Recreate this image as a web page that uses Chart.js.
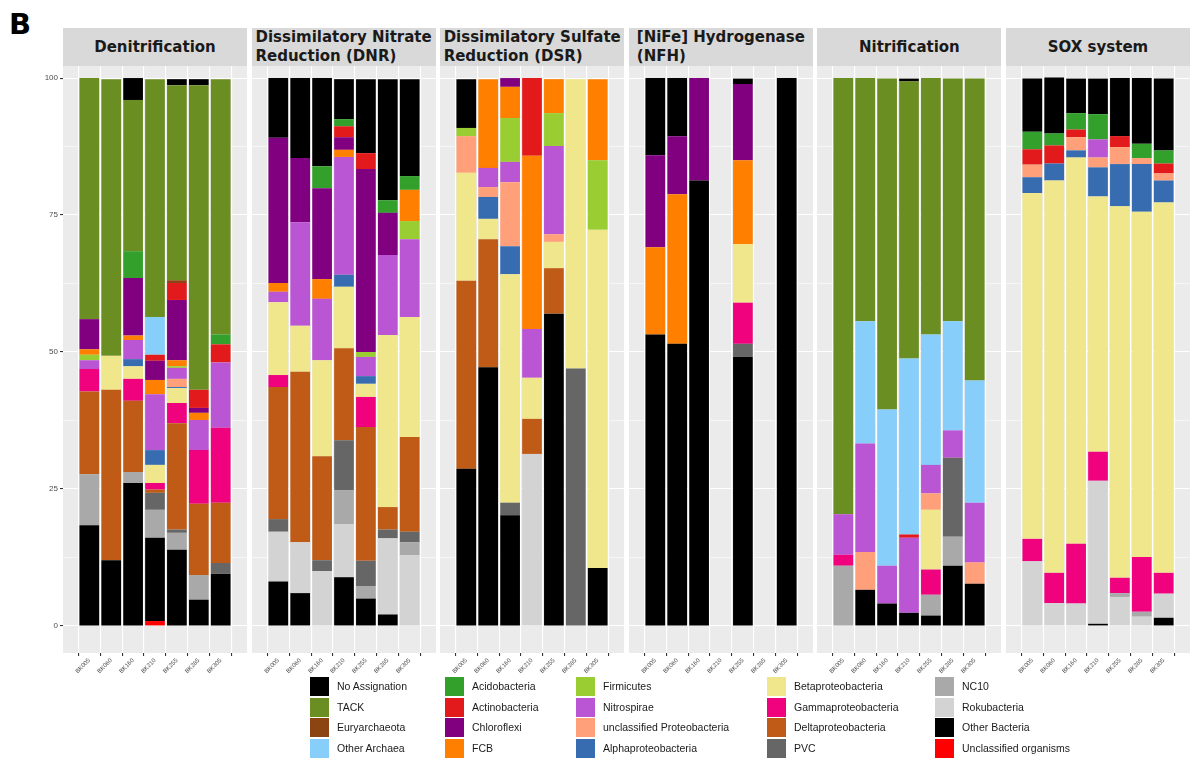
<!DOCTYPE html>
<html>
<head>
<meta charset="utf-8">
<script src="https://cdn.jsdelivr.net/npm/chart.js@4.4.1/dist/chart.umd.min.js"></script>
<style>
  body { margin: 0; background: #fff; width: 1192px; height: 758px; position: relative; overflow: hidden;
         font-family: 'Liberation Sans', Arial, sans-serif; }
  .tag { position: absolute; left: 9px; top: 7px; font: bold 29px 'DejaVu Sans', sans-serif; color: #000; }
  .strip { position: absolute; top: 28px; height: 38px; background: #D9D9D9; color: #1A1A1A;
           font: bold 15px 'DejaVu Sans', sans-serif; display: flex; align-items: center; justify-content: center; }
  .strip span { white-space: pre; line-height: 19px; text-align: left; }
  canvas { position: absolute; }
  .key { position: absolute; width: 19px; height: 19px; }
  .lab { position: absolute; font-size: 10.5px; color: #1A1A1A; line-height: 19px; white-space: nowrap; }
</style>
</head>
<body>
<div class="tag">B</div>
<div id="root"></div>
<script>
// sample sites along the x axis of every facet
const samples = ['BK005', 'BK060', 'BK160', 'BK210', 'BK255', 'BK285', 'BK305'];

// legend order (top of the stack first)
const taxa = [
  'No Assignation', 'TACK', 'Euryarchaeota', 'Other Archaea',
  'Acidobacteria', 'Actinobacteria', 'Chloroflexi', 'FCB',
  'Firmicutes', 'Nitrospirae', 'unclassified Proteobacteria', 'Alphaproteobacteria',
  'Betaproteobacteria', 'Gammaproteobacteria', 'Deltaproteobacteria', 'PVC',
  'NC10', 'Rokubacteria', 'Other Bacteria', 'Unclassified organisms'
];

const taxaColors = [
  '#000000', '#6B8E23', '#8B4513', '#87CEFA',
  '#33A02C', '#E31A1C', '#800080', '#FF7F00',
  '#9ACD32', '#BA55D3', '#FFA07A', '#386CB0',
  '#F0E68C', '#F0027F', '#BF5B17', '#666666',
  '#A9A9A9', '#D3D3D3', '#000000', '#FF0000'
];

const panelTitles = [
  'Denitrification',
  'Dissimilatory Nitrate\nReduction (DNR)',
  'Dissimilatory Sulfate\nReduction (DSR)',
  '[NiFe] Hydrogenase\n(NFH)',
  'Nitrification',
  'SOX system'
];

// relative abundance (%) per taxon, one value per sample
const denitrification = {
  'No Assignation': [0, 0, 4.0, 0, 1.1, 1.1, 0],
  'TACK': [44.0, 50.5, 27.6, 43.4, 35.6, 55.6, 46.6],
  'Euryarchaeota': [0, 0, 0, 0, 0.5, 0, 0],
  'Other Archaea': [0, 0, 0, 6.9, 0, 0, 0],
  'Acidobacteria': [0, 0, 4.9, 0, 0, 0, 1.8],
  'Actinobacteria': [0, 0, 0, 1.1, 3.1, 3.3, 3.3],
  'Chloroflexi': [5.5, 0, 10.5, 3.5, 11.0, 0.9, 0],
  'FCB': [1.0, 0, 0.8, 2.6, 1.1, 1.3, 0],
  'Firmicutes': [1.0, 0, 0, 0, 0.3, 0, 0],
  'Nitrospirae': [1.6, 0, 3.5, 10.2, 2.0, 5.5, 11.9],
  'unclassified Proteobacteria': [0, 0, 0, 0, 1.5, 0, 0],
  'Alphaproteobacteria': [0, 0, 1.3, 2.7, 0.2, 0, 0],
  'Betaproteobacteria': [0, 6.2, 2.3, 3.3, 2.7, 0, 0],
  'Gammaproteobacteria': [4.1, 0, 4.0, 1.2, 3.7, 9.8, 13.7],
  'Deltaproteobacteria': [15.1, 31.1, 13.0, 0.6, 19.4, 13.0, 11.0],
  'PVC': [0, 0, 0, 3.1, 0.6, 0, 2.0],
  'NC10': [9.3, 0, 2.0, 5.1, 3.1, 4.5, 0],
  'Other Bacteria': [18.4, 12.0, 26.1, 15.2, 13.9, 4.8, 9.5],
  'Unclassified organisms': [0, 0, 0, 0.9, 0, 0, 0]
};

const dnr = {
  'No Assignation': [10.9, 14.6, 16.1, 7.3, 13.5, 22.1, 17.7],
  'Acidobacteria': [0, 0, 4.0, 1.3, 0, 2.3, 2.5],
  'Actinobacteria': [0, 0, 0, 2.0, 2.9, 0, 0],
  'Chloroflexi': [26.5, 11.7, 16.6, 2.3, 33.4, 7.7, 0],
  'FCB': [1.6, 0, 3.6, 1.3, 0, 0, 5.7],
  'Firmicutes': [0, 0, 0, 0, 0.9, 0, 3.3],
  'Nitrospirae': [1.9, 18.9, 11.2, 21.5, 3.5, 14.6, 14.2],
  'Alphaproteobacteria': [0, 0, 0, 2.2, 1.4, 0, 0],
  'Betaproteobacteria': [13.3, 8.4, 17.5, 11.2, 2.4, 31.4, 21.9],
  'Gammaproteobacteria': [2.2, 0, 0, 0, 5.5, 0, 0],
  'Deltaproteobacteria': [24.1, 31.1, 19.0, 16.8, 24.4, 4.1, 17.3],
  'PVC': [2.3, 0, 2.0, 9.1, 4.6, 1.6, 1.9],
  'NC10': [0, 0, 0, 6.2, 2.3, 0, 2.4],
  'Rokubacteria': [9.1, 9.3, 10.0, 9.7, 0, 13.9, 12.9],
  'Other Bacteria': [8.1, 6.0, 0, 8.9, 5.0, 2.1, 0]
};

const dsr = {
  'No Assignation': [8.9, 0, 0, 0, 0, 0, 0],
  'Actinobacteria': [0, 0, 0, 14.2, 0, 0, 0],
  'Chloroflexi': [0, 0, 1.6, 0, 0, 0, 0],
  'FCB': [0, 16.2, 5.7, 31.6, 6.2, 0, 14.8],
  'Firmicutes': [1.5, 0, 8.0, 0, 6.0, 0, 12.7],
  'Nitrospirae': [0, 3.5, 3.7, 8.9, 16.1, 0, 0],
  'unclassified Proteobacteria': [6.7, 1.8, 11.7, 0, 1.4, 0, 0],
  'Alphaproteobacteria': [0, 4.0, 5.1, 0, 0, 0, 0],
  'Betaproteobacteria': [19.7, 3.7, 41.7, 7.5, 4.8, 52.8, 61.7],
  'Deltaproteobacteria': [34.3, 23.4, 0, 6.4, 8.3, 0, 0],
  'PVC': [0, 0, 2.3, 0, 0, 47.0, 0],
  'Rokubacteria': [0, 0, 0, 31.4, 0, 0, 0],
  'Other Bacteria': [28.7, 47.2, 20.2, 0, 57.0, 0, 10.6]
};

const nfh = {
  'No Assignation': [14.1, 10.6, 0, 0, 1.0, 0, 0],
  'Chloroflexi': [16.8, 10.6, 18.7, 0, 13.9, 0, 0],
  'FCB': [15.9, 27.3, 0, 0, 15.3, 0, 0],
  'Betaproteobacteria': [0, 0, 0, 0, 10.7, 0, 0],
  'Gammaproteobacteria': [0, 0, 0, 0, 7.5, 0, 0],
  'PVC': [0, 0, 0, 0, 2.4, 0, 0],
  'Other Bacteria': [53.2, 51.5, 81.3, 0, 49.1, 0, 100]
};

const nitrification = {
  'No Assignation': [0, 0, 0, 0.5, 0, 0, 0],
  'TACK': [79.6, 44.4, 60.4, 50.6, 46.8, 44.3, 55.1],
  'Other Archaea': [0, 22.3, 28.5, 32.1, 23.8, 19.9, 22.3],
  'Actinobacteria': [0, 0, 0, 0.6, 0, 0, 0],
  'Nitrospirae': [7.4, 19.8, 6.9, 13.7, 5.2, 5.0, 10.9],
  'unclassified Proteobacteria': [0, 6.9, 0, 0, 3.0, 0, 3.9],
  'Betaproteobacteria': [0, 0, 0, 0, 10.9, 0, 0],
  'Gammaproteobacteria': [2.0, 0, 0, 0, 4.6, 0, 0],
  'PVC': [0, 0, 0, 0, 0, 14.4, 0],
  'NC10': [11.0, 0, 0, 0, 3.8, 5.3, 0],
  'Other Bacteria': [0, 6.6, 4.1, 2.4, 1.9, 11.0, 7.7]
};

const sox = {
  'No Assignation': [9.7, 10.2, 6.3, 6.5, 10.6, 12.0, 13.1],
  'Acidobacteria': [3.2, 2.2, 3.0, 4.6, 0, 2.6, 2.4],
  'Actinobacteria': [2.8, 3.3, 1.4, 0, 2.0, 0, 1.8],
  'Nitrospirae': [0, 0, 0, 3.3, 0, 0, 0],
  'unclassified Proteobacteria': [2.3, 0, 2.4, 1.8, 3.1, 1.1, 1.3],
  'Alphaproteobacteria': [2.9, 3.1, 1.3, 5.3, 7.7, 8.7, 4.0],
  'Betaproteobacteria': [63.1, 71.6, 70.5, 46.6, 67.8, 63.0, 67.6],
  'Gammaproteobacteria': [4.1, 5.5, 10.9, 5.3, 2.8, 10.0, 3.8],
  'NC10': [0, 0, 0, 0, 0.7, 0.9, 0],
  'Rokubacteria': [11.8, 4.2, 4.1, 26.1, 5.3, 1.7, 4.4],
  'Other Bacteria': [0, 0, 0, 0.4, 0, 0, 1.5]
};

const yTicks = [0, 12.5, 25, 37.5, 50, 62.5, 75, 87.5, 100];

const panels = [denitrification, dnr, dsr, nfh, nitrification, sox];

// facet geometry (px)
const PANEL_LEFT = 63, PANEL_W = 184, PANEL_GAP = 4.6;
const PANEL_TOP = 66, PANEL_H = 587, AXIS_H = 30, MARGIN = 34;
const FONT = 'Liberation Sans';

// grey panel background, like ggplot's theme_gray
const panelBg = {
  id: 'panelBg',
  beforeDraw(chart) {
    const { ctx, chartArea: a } = chart;
    ctx.save();
    ctx.fillStyle = '#EBEBEB';
    ctx.fillRect(a.left, a.top, a.right - a.left, a.bottom - a.top);
    ctx.restore();
  }
};

const root = document.getElementById('root');
const isMajor = (v) => v % 25 === 0;

panels.forEach((values, p) => {
  const left = PANEL_LEFT + p * (PANEL_W + PANEL_GAP);

  const strip = document.createElement('div');
  strip.className = 'strip';
  strip.style.left = left + 'px';
  strip.style.width = PANEL_W + 'px';
  const span = document.createElement('span');
  span.textContent = panelTitles[p];
  strip.appendChild(span);
  root.appendChild(strip);

  const canvas = document.createElement('canvas');
  canvas.width = PANEL_W + MARGIN;
  canvas.height = PANEL_H + AXIS_H;
  canvas.style.left = (left - MARGIN) + 'px';
  canvas.style.top = PANEL_TOP + 'px';
  root.appendChild(canvas);

  // Chart.js stacks the first dataset at the bottom, so walk the legend backwards
  const datasets = taxa.map((name, t) => ({
    label: name,
    data: samples.map((s, i) => ({ x: i + 1, y: values[name] ? values[name][i] : 0 })),
    backgroundColor: taxaColors[t],
    borderWidth: 0,
    barPercentage: 0.9,
    categoryPercentage: 1.0
  })).reverse();

  const first = p === 0;

  new Chart(canvas, {
    type: 'bar',
    data: { datasets },
    plugins: [panelBg],
    options: {
      responsive: false,
      animation: false,
      devicePixelRatio: 1,
      layout: { padding: { left: first ? 0 : MARGIN, right: 0, top: 0, bottom: 0 } },
      plugins: { legend: { display: false }, tooltip: { enabled: false } },
      scales: {
        x: {
          type: 'linear',
          min: 0.4,
          max: 7.6,
          stacked: true,
          afterBuildTicks: (s) => { s.ticks = samples.map((_, i) => ({ value: i + 1 })); },
          afterFit: (s) => { s.height = AXIS_H; s.paddingLeft = 0; s.paddingRight = 0; },
          border: { display: false },
          grid: { color: '#FFFFFF', lineWidth: 1.1, drawTicks: true, tickLength: 3, tickColor: '#333333' },
          ticks: {
            autoSkip: false,
            minRotation: 45,
            maxRotation: 45,
            padding: 1,
            color: '#4D4D4D',
            font: { family: FONT, size: 6 },
            callback: (v) => samples[v - 1]
          }
        },
        y: {
          min: -4.93,
          max: 102.2,
          stacked: true,
          afterBuildTicks: (s) => { s.ticks = yTicks.map((v) => ({ value: v })); },
          afterFit: (s) => { s.width = first ? MARGIN : 0; s.paddingTop = 0; s.paddingBottom = 0; },
          border: { display: false },
          grid: {
            color: '#FFFFFF',
            lineWidth: (ctx) => (ctx.tick && isMajor(ctx.tick.value) ? 1.1 : 0.55),
            drawTicks: first,
            tickLength: 3,
            tickColor: (ctx) => (ctx.tick && isMajor(ctx.tick.value) ? '#333333' : 'rgba(0,0,0,0)')
          },
          ticks: {
            display: first,
            padding: 2,
            color: '#4D4D4D',
            font: { family: FONT, size: 8 },
            callback: (v) => (isMajor(v) ? String(v) : '')
          }
        }
      }
    }
  });
});

// legend: 4 rows, filled column by column
const legendCols = [310, 445, 576, 767, 935];
const legendRows = [677, 698, 718, 739];
taxa.forEach((name, t) => {
  const col = Math.floor(t / 4), row = t % 4;
  const key = document.createElement('div');
  key.className = 'key';
  key.style.left = legendCols[col] + 'px';
  key.style.top = legendRows[row] + 'px';
  key.style.background = taxaColors[t];
  root.appendChild(key);
  const lab = document.createElement('div');
  lab.className = 'lab';
  lab.style.left = (legendCols[col] + 27) + 'px';
  lab.style.top = legendRows[row] + 'px';
  lab.textContent = name;
  root.appendChild(lab);
});
</script>
</body>
</html>
